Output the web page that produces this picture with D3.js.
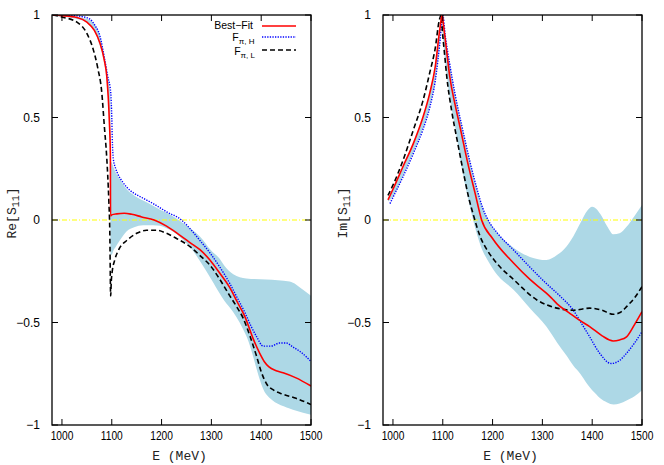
<!DOCTYPE html>
<html><head><meta charset="utf-8">
<script src="https://cdn.jsdelivr.net/npm/d3@7"></script>
<style>body{margin:0;background:#fff}</style>
</head><body>
<svg id="c" width="664" height="465"></svg>
<script>
// ---------- data ----------
const xTicks = [1000, 1100, 1200, 1300, 1400, 1500];
const yTicks = [1, 0.5, 0, -0.5, -1];
const yTickLabels = ["1", "0.5", "0", "\u22120.5", "\u22121"];
const legendLabels = ["Best\u2212Fit", "F", "F"];
const legendSubs = ["", "\u03c0, H", "\u03c0, L"];

// Re[S11]
const reBestE = [982,1000,1030,1050,1065,1076,1085,1090,1095,1097.2,1097.5,1100,1110,1125,1140,1160,1185,1210,1237,1257,1277,1297,1317,1337,1352,1367,1384,1397,1406,1415,1430,1444,1470,1500];
const reBest  = [1.0,0.997,0.988,0.965,0.925,0.865,0.78,0.7,0.49,0.32,0.02,0.025,0.03,0.033,0.028,0.015,0.0,-0.03,-0.075,-0.11,-0.145,-0.195,-0.26,-0.33,-0.4,-0.47,-0.58,-0.65,-0.69,-0.715,-0.735,-0.745,-0.77,-0.81];
const reHE = [982,1020,1045,1056,1066,1076,1086,1092,1098,1100,1101,1103,1108,1113,1122,1130,1145,1160,1183,1210,1240,1260,1277,1297,1317,1337,1352,1367,1380,1391,1404,1420,1437,1450,1464,1480,1500];
const reH  = [1.0,0.997,0.99,0.98,0.95,0.9,0.78,0.7,0.62,0.5,0.4,0.3,0.25,0.22,0.185,0.16,0.13,0.11,0.08,0.04,0.0,-0.05,-0.1,-0.16,-0.23,-0.31,-0.38,-0.45,-0.52,-0.57,-0.615,-0.615,-0.6,-0.6,-0.62,-0.645,-0.69];
const reLE = [982,1000,1030,1050,1063,1072,1080,1085,1090,1094,1096,1097.8,1099,1101,1106,1115,1130,1150,1170,1190,1210,1230,1257,1280,1297,1317,1337,1350,1364,1378,1391,1400,1411,1425,1444,1470,1500];
const reL  = [1.0,0.99,0.965,0.91,0.83,0.74,0.62,0.46,0.3,0.1,-0.05,-0.37,-0.3,-0.25,-0.195,-0.14,-0.1,-0.065,-0.05,-0.05,-0.065,-0.09,-0.13,-0.18,-0.22,-0.29,-0.37,-0.42,-0.48,-0.57,-0.667,-0.74,-0.8,-0.83,-0.85,-0.87,-0.9];
const reBandE  = [982,1030,1056,1076,1086,1092,1097.3,1097.6,1100,1103,1108,1116,1130,1145,1163,1183,1197,1210,1225,1240,1260,1277,1300,1317,1325,1344,1370,1410,1457,1484,1500];
const reBandLo = [0.995,0.98,0.955,0.85,0.75,0.62,0.32,-0.17,-0.17,-0.15,-0.13,-0.1,-0.055,-0.035,-0.025,-0.025,-0.028,-0.04,-0.06,-0.09,-0.14,-0.2,-0.29,-0.36,-0.39,-0.45,-0.565,-0.85,-0.92,-0.94,-0.95];
const reBandHi = [1.0,0.99,0.975,0.9,0.79,0.7,0.6,0.29,0.28,0.26,0.23,0.2,0.15,0.12,0.095,0.07,0.05,0.035,0.015,-0.01,-0.045,-0.08,-0.15,-0.19,-0.22,-0.265,-0.285,-0.29,-0.3,-0.34,-0.37];

// Im[S11]
const imBestE = [990,1000,1020,1041,1060,1074,1085,1094,1099,1100.5,1107,1114,1125,1135,1150,1165,1178,1200,1242,1275,1308,1318,1330,1355,1375,1395,1420,1442,1455,1469,1485,1500];
const imBest  = [0.098,0.15,0.26,0.374,0.5,0.62,0.75,0.93,1.0,0.97,0.84,0.7,0.56,0.45,0.28,0.13,0.0,-0.09,-0.21,-0.29,-0.357,-0.38,-0.41,-0.455,-0.49,-0.52,-0.565,-0.59,-0.585,-0.57,-0.51,-0.447];
const imHE = [994,1000,1020,1041,1060,1074,1085,1094,1100,1105,1114,1125,1140,1155,1170,1180,1191,1210,1242,1275,1308,1335,1362,1380,1395,1415,1438,1455,1469,1485,1500];
const imH  = [0.08,0.11,0.21,0.325,0.44,0.55,0.68,0.86,1.0,0.9,0.76,0.61,0.44,0.28,0.14,0.06,0.0,-0.065,-0.146,-0.23,-0.31,-0.37,-0.44,-0.51,-0.57,-0.65,-0.7,-0.685,-0.65,-0.6,-0.545];
const imLE = [990,1000,1020,1041,1060,1074,1085,1093,1097,1099,1104,1108,1118,1128,1140,1152,1162,1175,1190,1208,1242,1289,1329,1362,1395,1420,1442,1457,1470,1485,1500];
const imL  = [0.12,0.17,0.29,0.44,0.58,0.72,0.84,0.975,1.0,0.93,0.8,0.7,0.53,0.4,0.25,0.11,0.02,-0.08,-0.15,-0.21,-0.29,-0.39,-0.43,-0.44,-0.43,-0.44,-0.46,-0.45,-0.42,-0.38,-0.325];
const imBandE  = [990,1000,1020,1041,1060,1074,1085,1094,1098,1100,1105,1114,1125,1140,1155,1170,1180,1191,1210,1242,1275,1308,1330,1348,1362,1376,1390,1400,1408,1416,1430,1443,1455,1469,1485,1500];
const imBandLo = [0.09,0.115,0.215,0.33,0.445,0.555,0.685,0.865,0.97,0.9,0.77,0.6,0.45,0.23,0.06,-0.08,-0.15,-0.2,-0.27,-0.34,-0.43,-0.52,-0.6,-0.66,-0.71,-0.75,-0.8,-0.83,-0.85,-0.87,-0.89,-0.9,-0.895,-0.88,-0.86,-0.83];
const imBandHi = [0.098,0.15,0.26,0.374,0.5,0.62,0.75,0.93,1.0,1.0,0.9,0.76,0.61,0.44,0.28,0.14,0.06,0.0,-0.065,-0.135,-0.18,-0.195,-0.17,-0.13,-0.08,-0.016,0.045,0.065,0.055,0.03,-0.03,-0.07,-0.065,-0.033,0.02,0.073];

// ---------- drawing ----------
const svg = d3.select("#c");
const Y0 = 15, Y1 = 425;
const SANS = "'Liberation Sans', Arial, sans-serif";
const MONO = "'Liberation Mono', 'Courier New', monospace";

function panel(id, x0, x1, cfg) {
  const x = d3.scaleLinear().domain([980, 1500]).range([x0, x1]);
  const y = d3.scaleLinear().domain([-1, 1]).range([Y1, Y0]);
  const g = svg.append("g");
  g.append("clipPath").attr("id", "clip" + id).append("rect")
    .attr("x", x0).attr("y", Y0).attr("width", x1 - x0).attr("height", Y1 - Y0);
  const pg = g.append("g").attr("clip-path", `url(#clip${id})`);

  const area = d3.area().x(d => x(d[0])).y0(d => y(d[1])).y1(d => y(d[2])).curve(d3.curveMonotoneX);
  pg.append("path").datum(d3.zip(cfg.bandE, cfg.bandLo, cfg.bandHi))
    .attr("d", area).attr("fill", "#add8e6").attr("stroke", "none");

  pg.append("line").attr("x1", x0).attr("x2", x1).attr("y1", y(0)).attr("y2", y(0))
    .attr("stroke", "#ffff00").attr("stroke-width", 1.2).attr("stroke-dasharray", "5,2,1,2");

  const line = d3.line().x(d => x(d[0])).y(d => y(d[1])).curve(d3.curveMonotoneX);
  pg.append("path").datum(d3.zip(cfg.hE, cfg.h)).attr("d", line)
    .attr("fill", "none").attr("stroke", "#0000ff").attr("stroke-width", 1.4).attr("stroke-dasharray", "1.3,1.3");
  pg.append("path").datum(d3.zip(cfg.lE, cfg.l)).attr("d", line)
    .attr("fill", "none").attr("stroke", "#000").attr("stroke-width", 1.6).attr("stroke-dasharray", "5,3");
  pg.append("path").datum(d3.zip(cfg.bE, cfg.b)).attr("d", line)
    .attr("fill", "none").attr("stroke", "#ff0000").attr("stroke-width", 1.6);

  // ticks (mirror, inward)
  const tl = 6;
  xTicks.forEach(t => {
    g.append("line").attr("x1", x(t)).attr("x2", x(t)).attr("y1", Y1).attr("y2", Y1 - tl).attr("stroke", "#000");
    g.append("line").attr("x1", x(t)).attr("x2", x(t)).attr("y1", Y0).attr("y2", Y0 + tl).attr("stroke", "#000");
    g.append("text").attr("transform", `translate(${x(t)},440) scale(0.85,1)`)
      .attr("text-anchor", "middle").attr("font-family", SANS).attr("font-size", 12).text(t);
  });
  yTicks.forEach((t, i) => {
    g.append("line").attr("x1", x0).attr("x2", x0 + tl).attr("y1", y(t)).attr("y2", y(t)).attr("stroke", "#000");
    g.append("line").attr("x1", x1).attr("x2", x1 - tl).attr("y1", y(t)).attr("y2", y(t)).attr("stroke", "#000");
    g.append("text").attr("x", x0 - 12).attr("y", y(t) + 4).attr("text-anchor", "end")
      .attr("font-family", SANS).attr("font-size", 12).text(yTickLabels[i]);
  });
  g.append("rect").attr("x", x0).attr("y", Y0).attr("width", x1 - x0).attr("height", Y1 - Y0)
    .attr("fill", "none").attr("stroke", "#000").attr("stroke-width", 1.3);

  // axis labels
  g.append("text").attr("transform", `translate(${(x0 + x1) / 2 - 2},460)`)
    .attr("text-anchor", "middle").attr("font-family", MONO).attr("font-size", 13)
    .attr("fill", "#222").text("E (MeV)");
  const yl = g.append("text").attr("transform", `translate(${x0 - 36},${213}) rotate(-90)`)
    .attr("text-anchor", "middle").attr("font-family", MONO).attr("font-size", 13).attr("fill", "#222");
  yl.append("tspan").text(cfg.ylab + "[S");
  yl.append("tspan").attr("font-size", 10).attr("dy", 3).text("11");
  yl.append("tspan").attr("dy", -3).text("]");
  return {g, x, y};
}

const L = panel("L", 52, 311, {bandE: reBandE, bandLo: reBandLo, bandHi: reBandHi,
  bE: reBestE, b: reBest, hE: reHE, h: reH, lE: reLE, l: reL, ylab: "Re"});
panel("R", 383, 642, {bandE: imBandE, bandLo: imBandLo, bandHi: imBandHi,
  bE: imBestE, b: imBest, hE: imHE, h: imH, lE: imLE, l: imL, ylab: "Im"});

// legend
const legLineY = [26, 37, 50];
const legTextY = [28.5, 41, 55];
const legStyles = [
  {stroke: "#ff0000", w: 1.6, dash: null},
  {stroke: "#0000ff", w: 1.4, dash: "1.3,1.3"},
  {stroke: "#000", w: 1.6, dash: "5,3"}
];
legendLabels.forEach((lab, i) => {
  const t = L.g.append("text").attr("y", legTextY[i]).attr("text-anchor", "end")
    .attr("font-family", SANS).attr("font-size", 10.5);
  if (legendSubs[i]) {
    t.attr("x", 254 + i * 0.5);
    t.append("tspan").text(lab);
    t.append("tspan").attr("font-size", 8).attr("dy", 3).text(legendSubs[i]);
  } else {
    t.attr("x", 253).text(lab);
  }
  const s = legStyles[i];
  const ln = L.g.append("line").attr("x1", 262).attr("x2", 296).attr("y1", legLineY[i]).attr("y2", legLineY[i])
    .attr("stroke", s.stroke).attr("stroke-width", s.w);
  if (s.dash) ln.attr("stroke-dasharray", s.dash);
});
</script>
</body></html>
